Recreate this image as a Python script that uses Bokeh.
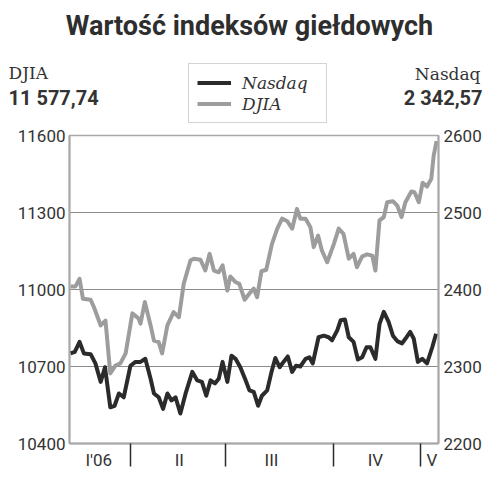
from bokeh.plotting import figure
from bokeh.models import (Range1d, LinearAxis, FixedTicker, Label, Legend, LegendItem)
from bokeh.embed import file_html
from bokeh.resources import INLINE

# ---- data (x = trading-day position from the chart start) ----
djia_day = [0.2, 1.25, 2.1, 2.8, 4.4, 5.1, 6.5, 7.5, 8.5, 9.6, 10.6, 11.7, 13.1, 14.4, 14.8,
            15.7, 16.9, 17.6, 18.6, 19.3, 20.4, 21.7, 22.8, 23.8, 25.2, 25.9, 27.3, 28.3,
            29.2, 30.1, 31.1, 31.9, 32.9, 33.5, 34.6, 35.4, 36.5, 37.7, 38.4, 39.1, 40.0,
            41.0, 42.2, 43.3, 44.3, 45.4, 46.4, 47.4, 48.1, 49.2, 50.2, 50.9, 51.8, 52.6,
            53.7, 55.1, 56.1, 57.1, 58.2, 59.2, 59.9, 61.0, 62.0, 63.1, 63.75, 64.6, 65.5,
            66.2, 67.4, 68.3, 69.2, 70.0, 71.25, 71.9, 72.8, 73.6, 74.5, 75.4, 75.9, 76.5]
djia = [11012, 11012, 11042, 10964, 10960, 10931, 10860, 10879, 10673, 10704, 10712, 10751,
        10907, 10887, 10867, 10951, 10860, 10801, 10795, 10751, 10860, 10912, 10892, 11022,
        11113, 11120, 11116, 11074, 11139, 11074, 11067, 11094, 10996, 11051, 11029, 11022,
        10960, 10989, 11003, 10970, 11071, 11077, 11178, 11237, 11276, 11266, 11237, 11314,
        11276, 11276, 11243, 11165, 11210, 11152, 11106, 11178, 11237, 11217, 11120, 11139,
        11087, 11129, 11137, 11132, 11074, 11269, 11282, 11340, 11344, 11327, 11282, 11340,
        11382, 11379, 11340, 11416, 11401, 11431, 11522, 11577.74]

nasdaq_day = [0.2, 1.1, 2.1, 3.0, 4.4, 5.4, 6.5, 7.4, 8.5, 9.4, 10.3, 11.3, 12.7, 13.75, 14.8,
              15.8, 16.9, 17.6, 18.6, 19.5, 20.4, 21.25, 22.1, 23.1, 24.2, 25.6, 26.6, 27.6,
              28.5, 29.4, 30.3, 31.1, 31.9, 32.9, 33.75, 34.6, 35.6, 36.7, 37.5, 38.4, 39.3,
              40.1, 41.2, 42.1, 42.9, 43.8, 44.6, 45.5, 46.4, 47.2, 48.1, 49.2, 50.0, 50.7,
              51.9, 53.0, 54.0, 54.7, 55.8, 56.5, 57.4, 58.2, 59.2, 60.1, 61.0, 61.9, 62.7,
              63.75, 64.6, 65.5, 66.5, 67.4, 68.3, 69.3, 70.0, 71.0, 71.75, 72.6, 73.5, 74.5,
              75.6, 76.4]
nasdaq = [2317, 2319, 2332, 2317, 2316, 2304, 2280, 2299, 2247, 2249, 2265, 2260, 2301, 2306,
          2306, 2310, 2284, 2265, 2260, 2245, 2265, 2256, 2260, 2239, 2265, 2293, 2282, 2280,
          2262, 2282, 2278, 2284, 2306, 2280, 2314, 2310, 2299, 2282, 2269, 2267, 2249, 2262,
          2269, 2293, 2311, 2299, 2306, 2313, 2293, 2301, 2300, 2310, 2312, 2304, 2338, 2340,
          2338, 2334, 2347, 2360, 2361, 2338, 2332, 2309, 2312, 2325, 2325, 2310, 2355, 2371,
          2358, 2340, 2333, 2330, 2336, 2345, 2336, 2306, 2310, 2304, 2325, 2342.57]

month_bounds = [12.7, 32.5, 55.0, 73.1]
month_centers = [6.1, 22.9, 42.1, 63.75, 75.55]
month_labels = ["I'06", "II", "III", "IV", "V"]
djia_ticks = [10400, 10700, 11000, 11300, 11600]
nasdaq_ticks = [2200, 2300, 2400, 2500, 2600]

title_text = "Wartość indeksów giełdowych"
djia_last = "11 577,74"
nasdaq_last = "2 342,57"

DARK = "#2b2b2b"
GREY = "#9d9d9d"
FRAME = "#a8a8a8"
TXT = "#333333"
W = 490
HH = 125  # header height

# ---------------- header (title, last values, legend) ----------------
h = figure(width=W, height=HH, output_backend="svg", toolbar_location=None,
           x_range=Range1d(0, W), y_range=Range1d(0, HH),
           min_border=0, x_axis_location=None, y_axis_location=None)
h.outline_line_color = None
h.grid.visible = False
h.background_fill_color = "white"
h.border_fill_color = "white"

def lab(text, x, y, align, size, style="normal", font="Roboto", color=TXT):
    h.add_layout(Label(x=x, y=y, x_units="screen", y_units="screen", text=text,
                       text_align=align, text_baseline="middle", text_font=font,
                       text_font_size=size, text_font_style=style, text_color=color))

lab(title_text, 249, 100, "center", "27px", "bold", color="#2e2e2e")
lab("DJIA", 8, 53, "left", "17px", font="DejaVu Serif")
lab(djia_last, 8, 28, "left", "20px", "bold")
lab("Nasdaq", 480, 52, "right", "17px", font="DejaVu Serif")
lab(nasdaq_last, 482, 28, "right", "20px", "bold")

# legend keys: the series drawn in the header's range fall outside it (invisible)
k_nq = h.line(nasdaq_day, nasdaq, line_color=DARK, line_width=4)
k_dj = h.line(djia_day, djia, line_color=GREY, line_width=4)
legend = Legend(items=[LegendItem(label="Nasdaq", renderers=[k_nq]),
                       LegendItem(label="DJIA", renderers=[k_dj])],
                location=(188, 2), orientation="vertical")
legend.border_line_color = FRAME
legend.border_line_width = 1.5
legend.background_fill_color = "white"
legend.label_text_font = "DejaVu Serif"
legend.label_text_font_style = "italic"
legend.label_text_font_size = "17px"
legend.label_text_color = TXT
legend.glyph_width = 34
legend.glyph_height = 21
legend.label_height = 21
legend.label_width = 76
legend.label_standoff = 11
legend.padding = 8
legend.spacing = 0
legend.margin = 0
h.add_layout(legend, "center")

# ---------------- main chart ----------------
p = figure(width=W, height=351, output_backend="svg", toolbar_location=None,
           x_range=Range1d(0, 76.9), y_range=Range1d(10400, 11600),
           min_border_left=69, min_border_right=52, min_border_top=10, min_border_bottom=33,
           x_axis_location=None, y_axis_location=None)
p.extra_y_ranges = {"nq": Range1d(2200, 2600)}
p.background_fill_color = "white"
p.border_fill_color = "white"
p.outline_line_color = FRAME
p.outline_line_width = 1.5

left = LinearAxis(ticker=FixedTicker(ticks=djia_ticks))
right = LinearAxis(y_range_name="nq", ticker=FixedTicker(ticks=nasdaq_ticks))
bottom = LinearAxis(ticker=FixedTicker(ticks=month_centers, minor_ticks=month_bounds))
bottom.major_label_overrides = {c: l for c, l in zip(month_centers, month_labels)}
for ax in (left, right, bottom):
    ax.axis_line_color = FRAME
    ax.axis_line_width = 2
    ax.major_tick_line_color = None
    ax.major_tick_in = 0
    ax.major_tick_out = 0
    ax.major_label_text_font = "Roboto"
    ax.major_label_text_font_size = "17px"
    ax.major_label_text_color = TXT
left.minor_tick_line_color = None
right.minor_tick_line_color = None
left.major_label_standoff = 4
right.major_label_standoff = 5
bottom.minor_tick_line_color = DARK
bottom.minor_tick_line_width = 1.5
bottom.minor_tick_in = 0
bottom.minor_tick_out = 23
bottom.major_label_standoff = -17
p.add_layout(left, "left")
p.add_layout(right, "right")
p.add_layout(bottom, "below")

p.xgrid.visible = False
p.ygrid.ticker = FixedTicker(ticks=[10700, 11000, 11300])
p.ygrid.grid_line_color = "#8c8c8c"
p.ygrid.grid_line_width = 1.2

p.line(djia_day, djia, line_color=GREY, line_width=4, line_join="round")
p.line(nasdaq_day, nasdaq, y_range_name="nq", line_color=DARK, line_width=4,
       line_join="round")

open("out.html", "w").write(file_html([h, p], INLINE))
